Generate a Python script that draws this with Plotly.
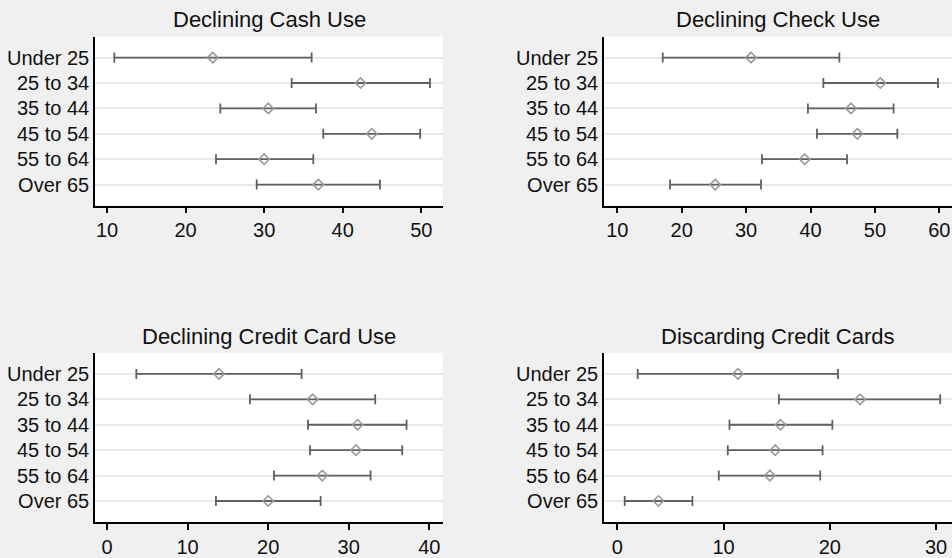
import plotly.graph_objects as go

# Age groups, listed top to bottom
age_groups = ["Under 25", "25 to 34", "35 to 44", "45 to 54", "55 to 64", "Over 65"]

# Point estimates and confidence bounds (percent of respondents)
cash_mean = [23.45, 42.27, 30.52, 43.70, 30.00, 36.90]
cash_low = [10.93, 33.50, 24.42, 37.52, 23.87, 29.05]
cash_high = [36.04, 51.10, 36.60, 49.86, 36.25, 44.73]

check_mean = [30.76, 50.84, 46.29, 47.27, 39.10, 25.20]
check_low = [17.05, 41.99, 39.60, 41.00, 32.47, 18.18]
check_high = [44.48, 59.80, 52.90, 53.48, 45.67, 32.31]

credit_mean = [13.90, 25.52, 31.10, 30.89, 26.72, 20.01]
credit_low = [3.64, 17.74, 24.94, 25.19, 20.72, 13.52]
credit_high = [24.15, 33.29, 37.18, 36.64, 32.71, 26.51]

discard_mean = [11.35, 22.85, 15.36, 14.86, 14.36, 3.87]
discard_low = [1.92, 15.21, 10.56, 10.40, 9.55, 0.70]
discard_high = [20.77, 30.39, 20.24, 19.32, 19.10, 7.07]

panel_titles = ["Declining Cash Use", "Declining Check Use",
                "Declining Credit Card Use", "Discarding Credit Cards"]
x_ticks = [[10, 20, 30, 40, 50], [10, 20, 30, 40, 50, 60],
           [0, 10, 20, 30, 40], [0, 10, 20, 30]]
x_ranges = [[8.47, 52.76], [7.93, 61.97], [-1.49, 41.7], [-1.25, 31.5]]

panels = [
    (cash_mean, cash_low, cash_high),
    (check_mean, check_low, check_high),
    (credit_mean, credit_low, credit_high),
    (discard_mean, discard_low, discard_high),
]

W, H = 952, 558
FONT = "Liberation Sans, Arial, Helvetica, sans-serif"

# Panel boxes in pixels: (left, right, top, bottom)
boxes = [(95, 443, 37, 208.3), (604, 952, 37, 208.3),
         (95, 443, 357.3, 528.7), (604, 952, 357.3, 528.7)]
title_y = [20, 20, 340.5, 340.5]

fig = go.Figure()
rows = list(range(len(age_groups)))

for i, (mean, low, high) in enumerate(panels):
    sfx = "" if i == 0 else str(i + 1)
    plus = [h - m for h, m in zip(high, mean)]
    minus = [m - l for m, l in zip(mean, low)]
    fig.add_trace(go.Scatter(
        x=mean, y=rows, mode="markers",
        xaxis="x" + sfx, yaxis="y" + sfx,
        marker=dict(symbol="diamond-open", size=8, color="#9a9a9a",
                    line=dict(width=1.6, color="#9a9a9a")),
        error_x=dict(type="data", symmetric=False, array=plus, arrayminus=minus,
                     color="#606060", thickness=1.8, width=5),
        showlegend=False,
        hoverinfo="x+y",
    ))
    l, r, t, b = boxes[i]
    fig.layout["xaxis" + sfx] = dict(
        domain=[l / W, r / W], anchor="y" + sfx, range=x_ranges[i],
        tickvals=x_ticks[i], ticks="outside", ticklen=6, tickwidth=1.5,
        tickcolor="#000", showline=True, linecolor="#000", linewidth=1.5,
        showgrid=False, zeroline=False,
        tickfont=dict(family=FONT, size=20, color="#111"),
    )
    fig.layout["yaxis" + sfx] = dict(
        domain=[1 - b / H, 1 - t / H], anchor="x" + sfx,
        range=[5.83, -0.83], tickvals=rows, ticktext=age_groups,
        ticks="", showline=True, linecolor="#000", linewidth=1.5,
        showgrid=True, gridcolor="#e8e8e8", gridwidth=1.5, zeroline=False,
        tickfont=dict(family=FONT, size=20, color="#111"),
    )
    fig.add_annotation(
        text=panel_titles[i], xref="paper", yref="paper",
        x=(l + r) / 2 / W, y=1 - title_y[i] / H,
        xanchor="center", yanchor="middle", showarrow=False,
        font=dict(family=FONT, size=22, color="#111"),
    )

fig.update_layout(
    width=W, height=H,
    margin=dict(l=0, r=0, t=0, b=0),
    paper_bgcolor="#f0f0f0", plot_bgcolor="#ffffff",
)

fig.write_html("out.html")
